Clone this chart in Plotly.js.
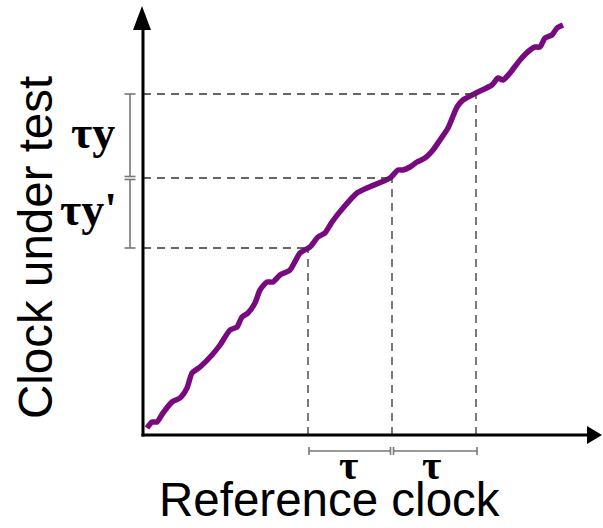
<!DOCTYPE html>
<html>
<head>
<meta charset="utf-8">
<script src="https://cdn.plot.ly/plotly-3.0.1.min.js"></script>
<style>html,body{margin:0;padding:0;background:#fff;}#chart{width:603px;height:528px;}</style>
</head>
<body>
<div id="chart"></div>
<script>
// Reference clock (x) vs clock under test (y), arbitrary units from the axis corner
const refClock = [4, 9, 14, 20, 29, 37, 44, 49, 57, 69, 77, 87, 94, 99, 105, 112, 117, 124, 130, 137, 147, 157, 167, 175, 182, 189, 200, 214, 224, 247, 255, 260, 267, 274, 282, 290, 297, 305, 314, 320, 335, 349, 355, 360, 367, 377, 387, 392, 397, 402, 409, 414, 420];
const testClock = [7, 13, 13, 22, 33, 37, 47, 62, 68, 80, 90, 105, 108, 118, 122, 132, 145, 153, 153, 160, 165, 182, 188, 198, 202, 213, 227, 242, 247, 257, 265, 265, 268, 273, 277, 285, 295, 307, 328, 335, 343, 350, 357, 355, 362, 375, 385, 388, 388, 397, 400, 407, 410];
// sampling instants separated by tau
const tauRef = [165, 249, 333];
const tauTest = [187, 257, 341];
const yLabels = ["τy", "τy'"];
const xLabel = "τ";

const shapes = [];
const dash = {color: '#333', width: 1.3, dash: '8px,6px'};
tauRef.forEach((xv, i) => {
  shapes.push({type: 'line', xref: 'x', yref: 'y', x0: 0, x1: xv, y0: tauTest[i], y1: tauTest[i], line: dash});
  shapes.push({type: 'line', xref: 'x', yref: 'y', x0: xv, x1: xv, y0: 0, y1: tauTest[i], line: dash});
});
// axes
const ax = {color: '#000', width: 3};
shapes.push({type: 'line', x0: 0, x1: 0, y0: -1.5, y1: 410, line: ax});
shapes.push({type: 'line', x0: -1.5, x1: 446, y0: 0, y1: 0, line: ax});
shapes.push({type: 'path', path: 'M -1,429 L -10,405 L 8,405 Z', fillcolor: '#000', line: {width: 0}});
shapes.push({type: 'path', path: 'M 459,0 L 444,9 L 444,-9 Z', fillcolor: '#000', line: {width: 0}});
// brackets
const br = {color: '#777', width: 1.6};
const bx = -13, tk = 5.5;
const yIntervals = [[tauTest[2], tauTest[1] + 1.5], [tauTest[1] - 1.5, tauTest[0]]];
yIntervals.forEach(([a, b]) => {
  shapes.push({type: 'line', x0: bx, x1: bx, y0: a, y1: b, line: br});
  shapes.push({type: 'line', x0: bx - tk, x1: bx + tk, y0: a, y1: a, line: br});
  shapes.push({type: 'line', x0: bx - tk, x1: bx + tk, y0: b, y1: b, line: br});
});
const by = -16, tky = 4;
const xIntervals = [[tauRef[0] + 1, tauRef[1] - 1.5], [tauRef[1] + 1.5, tauRef[2] + 1]];
xIntervals.forEach(([a, b]) => {
  shapes.push({type: 'line', x0: a, x1: b, y0: by, y1: by, line: br});
  shapes.push({type: 'line', x0: a, x1: a, y0: by - tky, y1: by + tky, line: br});
  shapes.push({type: 'line', x0: b, x1: b, y0: by - tky, y1: by + tky, line: br});
});

const serif = {family: 'Liberation Serif, DejaVu Serif, serif', size: 46, color: '#000', weight: 'bold'};
const serifSm = {family: 'Liberation Serif, DejaVu Serif, serif', size: 42, color: '#000', weight: 'bold'};
const sans = {family: 'Liberation Sans, Arial, Helvetica, sans-serif', size: 47.5, color: '#000'};
const annotations = [
  {x: 186, y: -64.5, text: 'Reference clock', showarrow: false, font: sans, xanchor: 'center', yanchor: 'middle'},
  {x: -108, y: 187, text: 'Clock under test', showarrow: false, font: sans, textangle: -90, xanchor: 'center', yanchor: 'middle'},
  {x: -50, y: 303, text: yLabels[0], showarrow: false, font: serif, xanchor: 'center', yanchor: 'middle'},
  {x: -55, y: 226, text: yLabels[1], showarrow: false, font: serif, xanchor: 'center', yanchor: 'middle'},
  {x: (tauRef[0] + tauRef[1]) / 2 - 2, y: -30, text: xLabel, showarrow: false, font: serifSm, xanchor: 'center', yanchor: 'middle'},
  {x: (tauRef[1] + tauRef[2]) / 2 - 3, y: -30, text: xLabel, showarrow: false, font: serifSm, xanchor: 'center', yanchor: 'middle'}
];

const trace = {x: refClock, y: testClock, mode: 'lines', type: 'scatter',
  line: {color: '#780a80', width: 5.5, shape: 'spline', smoothing: 0.6}, hoverinfo: 'skip'};

Plotly.newPlot('chart', [trace], {
  width: 603, height: 528,
  margin: {l: 0, r: 0, t: 0, b: 0},
  paper_bgcolor: '#fff', plot_bgcolor: '#fff',
  showlegend: false,
  xaxis: {range: [-143, 460], visible: false, fixedrange: true},
  yaxis: {range: [-93, 435], visible: false, fixedrange: true},
  shapes: shapes,
  annotations: annotations
}, {displayModeBar: false, staticPlot: true});
</script>
</body>
</html>
